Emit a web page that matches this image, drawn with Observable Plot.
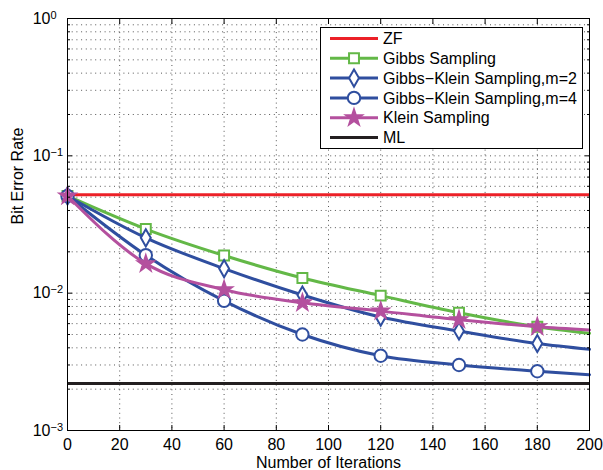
<!DOCTYPE html>
<html><head><meta charset="utf-8">
<script src="https://cdn.jsdelivr.net/npm/d3@7"></script>
<script src="https://cdn.jsdelivr.net/npm/@observablehq/plot@0.6"></script>
<style>body{margin:0;background:#fff}svg{display:block}</style>
</head><body><div id="chart"></div>
<script>
// ---- data ----
const iterations = [0, 30, 60, 90, 120, 150, 180, 200];
const markerMax = 180; // markers drawn at 0..180, lines continue to 200
const gibbs       = [0.051, 0.0293, 0.0188, 0.0129, 0.0096, 0.0072, 0.0057, 0.0051];
const gibbsKlein2 = [0.051, 0.0253, 0.0151, 0.0097, 0.0067, 0.0053, 0.0043, 0.0039];
const gibbsKlein4 = [0.051, 0.0189, 0.0088, 0.0050, 0.0035, 0.0030, 0.0027, 0.00255];
const klein       = [0.051, 0.0164, 0.0106, 0.0085, 0.0074, 0.0064, 0.0057, 0.0054];
const zfBER = 0.052;
const mlBER = 0.0022;
const xTicks = [0, 20, 40, 60, 80, 100, 120, 140, 160, 180, 200];
const yMajor = [1e-3, 1e-2, 1e-1, 1];
const yMinor = [2,3,4,5,6,7,8,9].flatMap(m => [1e-3, 1e-2, 1e-1].map(d => m * d));
const legendNames = ["ZF", "Gibbs Sampling", "Gibbs−Klein Sampling,m=2", "Gibbs−Klein Sampling,m=4", "Klein Sampling", "ML"];
const xTitle = "Number of Iterations";
const yTitle = "Bit Error Rate";

// ---- styles ----
const RED = "#ec2027", GREEN = "#63b847", BLUE = "#2f4e9f", PINK = "#b4509e", BLACK = "#231f20";
const series = [
  {values: gibbs,       color: GREEN, symbol: "square",  r: 5.6, fill: "#fff"},
  {values: gibbsKlein2, color: BLUE,  symbol: "diamond", r: 5.2, fill: "#fff"},
  {values: gibbsKlein4, color: BLUE,  symbol: "circle",  r: 6.2, fill: "#fff"},
  {values: klein,       color: PINK,  symbol: "star",    r: 4.9, fill: PINK}
];
const rowsOf = vals => iterations.map((x, i) => ({x, y: vals[i]}));
const font = "'Liberation Sans', Arial, Helvetica, sans-serif";
const gridStyle = {stroke: "#444", strokeWidth: 1, strokeOpacity: 0.9, strokeDasharray: "1,3.7"};

const seriesMarks = series.flatMap(s => {
  const rows = rowsOf(s.values);
  return [
    Plot.line(rows, {x: "x", y: "y", stroke: s.color, strokeWidth: 3, curve: "monotone-x"}),
    Plot.dot(rows.filter(d => d.x <= markerMax), {x: "x", y: "y", symbol: () => s.symbol, r: s.r,
      stroke: s.color, strokeWidth: 2, fill: s.fill})
  ];
});

const chart = Plot.plot({
  width: 603, height: 470,
  marginLeft: 67, marginRight: 14, marginTop: 18, marginBottom: 40,
  style: {fontFamily: font, fontSize: "16px", background: "#fff", color: "#000", overflow: "visible"},
  x: {domain: [0, 200], label: null},
  y: {type: "log", domain: [1e-3, 1], label: null},
  marks: [
    Plot.gridX(xTicks.slice(1, -1), gridStyle),
    Plot.gridY([...yMajor.slice(1, -1), ...yMinor], gridStyle),
    Plot.ruleY([zfBER], {stroke: RED, strokeWidth: 3}),
    ...seriesMarks,
    Plot.ruleY([mlBER], {stroke: BLACK, strokeWidth: 3}),
    Plot.frame({stroke: "#000", strokeWidth: 1}),
    Plot.axisX(xTicks, {anchor: "bottom", tickSize: -5, tickPadding: 13, fontSize: 16, label: null}),
    Plot.axisX(xTicks, {anchor: "top", tickSize: -5, tickFormat: () => "", label: null}),
    Plot.axisY(yMajor, {anchor: "left", tickSize: -5, tickPadding: 22, fontSize: 16, label: null,
      tickFormat: d => "10^" + Math.round(Math.log10(d))}),
    Plot.axisY(yMajor, {anchor: "right", tickSize: -5, tickFormat: () => "", label: null}),
    Plot.axisY(yMinor, {anchor: "left", tickSize: -3, tickFormat: () => "", label: null}),
    Plot.axisY(yMinor, {anchor: "right", tickSize: -3, tickFormat: () => "", label: null}),
    Plot.text([yTitle], {frameAnchor: "left", dx: -50, rotate: -90, fontSize: 16, text: d => d}),
    Plot.text([xTitle], {frameAnchor: "bottom", dy: 32, lineAnchor: "middle", fontSize: 16, text: d => d})
  ]
});
document.getElementById("chart").appendChild(chart);

// superscript exponents on y tick labels
d3.select(chart).selectAll('g[aria-label="y-axis tick label"] text').each(function() {
  const t = this.textContent;
  if (!t.startsWith("10^")) return;
  const exp = t.slice(3).replace("-", "−");
  const x0 = this.getAttribute("x") || 0;
  this.textContent = "10";
  const ts = document.createElementNS("http://www.w3.org/2000/svg", "tspan");
  ts.setAttribute("x", x0);
  ts.setAttribute("dy", "-0.45em");
  ts.setAttribute("font-size", "11px");
  ts.setAttribute("text-anchor", "start");
  ts.textContent = exp;
  this.appendChild(ts);
});

// legend (inside the plot area, top right)
const svg = d3.select(chart);
const legendStyles = [
  {color: RED, symbol: null},
  {color: GREEN, symbol: d3.symbolSquare, r: 5.6, fill: "#fff"},
  {color: BLUE, symbol: d3.symbolDiamond, r: 5.2, fill: "#fff"},
  {color: BLUE, symbol: d3.symbolCircle, r: 6.2, fill: "#fff"},
  {color: PINK, symbol: d3.symbolStar, r: 4.9, fill: PINK},
  {color: BLACK, symbol: null}
];
const lg = svg.append("g").attr("font-family", font).attr("font-size", 16).attr("text-anchor", "start");
lg.append("rect").attr("x", 320.5).attr("y", 27.5).attr("width", 262).attr("height", 121)
  .attr("fill", "#fff").attr("stroke", "#000").attr("stroke-width", 1);
legendNames.forEach((name, i) => {
  const st = legendStyles[i];
  const y = 38.5 + i * 19.8;
  lg.append("line").attr("x1", 330).attr("x2", 378).attr("y1", y).attr("y2", y)
    .attr("stroke", st.color).attr("stroke-width", 3);
  if (st.symbol) {
    lg.append("path").attr("d", d3.symbol(st.symbol, Math.PI * st.r * st.r)())
      .attr("transform", `translate(354,${y})`)
      .attr("stroke", st.color).attr("stroke-width", 2).attr("fill", st.fill);
  }
  lg.append("text").attr("x", 383).attr("y", y).attr("dy", "0.35em").attr("text-anchor", "start")
    .attr("fill", "#000").text(name);
});
</script></body></html>
